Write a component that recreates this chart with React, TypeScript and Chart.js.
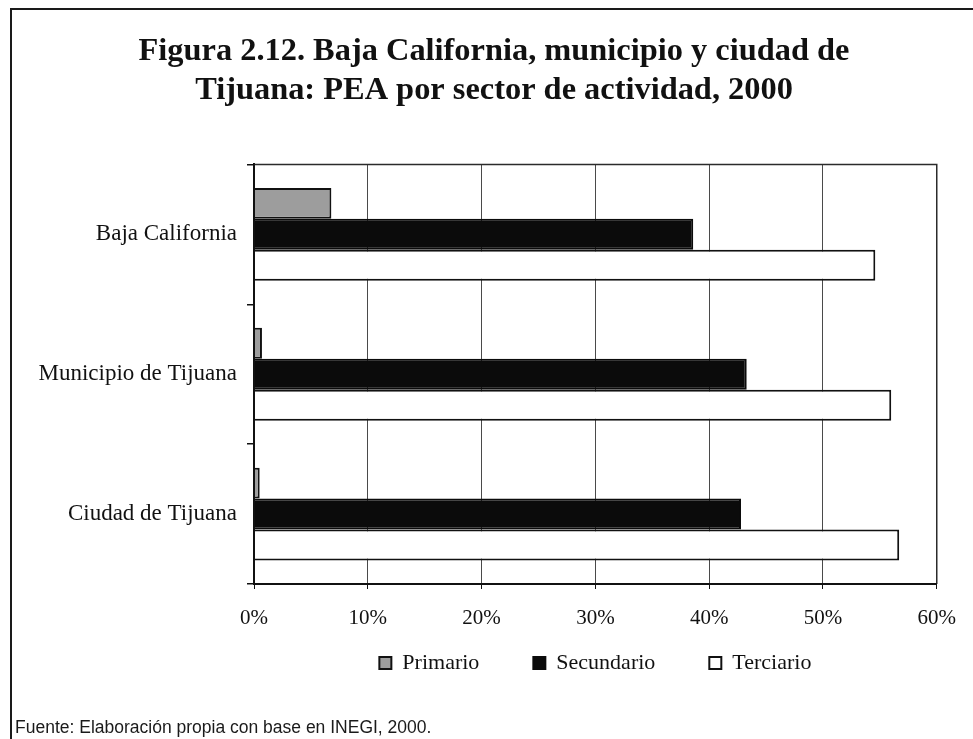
import { useEffect, useRef } from 'react';
import { Chart, registerables } from 'chart.js';

Chart.register(...registerables);

// Población económicamente activa por sector (% del total)
const categories = ['Baja California', 'Municipio de Tijuana', 'Ciudad de Tijuana'];
const primario = [6.8, 0.7, 0.5];
const secundario = [38.6, 43.3, 42.8];
const terciario = [54.6, 56.0, 56.7];
const seriesNames = ['Primario', 'Secundario', 'Terciario'];

const axisMin = 0;
const axisMax = 60;
const axisStep = 10;

const titleLines = [
  'Figura 2.12. Baja California, municipio y ciudad de',
  'Tijuana: PEA por sector de actividad, 2000',
];
const sourceNote = 'Fuente: Elaboración propia con base en INEGI, 2000.';

const SERIF = '"Liberation Serif", "Times New Roman", serif';
const SANS = '"Liberation Sans", Arial, sans-serif';

// Frame around the plotting area, drawn over the bars so the axis lines stay crisp
const plotFrame = {
  id: 'plotFrame',
  afterDatasetsDraw(chart: Chart) {
    const { ctx, chartArea: a } = chart;
    ctx.save();
    ctx.strokeStyle = '#2b2b2b';
    ctx.lineWidth = 1.5;
    ctx.beginPath();
    ctx.moveTo(a.left, a.top);
    ctx.lineTo(a.right, a.top);
    ctx.lineTo(a.right, a.bottom);
    ctx.stroke();
    ctx.strokeStyle = '#111';
    ctx.lineWidth = 2;
    ctx.beginPath();
    ctx.moveTo(a.left, a.top);
    ctx.lineTo(a.left, a.bottom);
    ctx.lineTo(a.right, a.bottom);
    ctx.stroke();
    ctx.restore();
  },
};

// The x axis reserves only a short box so the legend sits close to it;
// widen the label clip region afterwards so the percentage labels still show.
const xLabelRoom = {
  id: 'xLabelRoom',
  afterLayout(chart: any) {
    const s = chart.scales.x;
    if (s) s.bottom = s.top + 60;
  },
};

export default function App() {
  const canvasRef = useRef<HTMLCanvasElement | null>(null);

  useEffect(() => {
    const canvas = canvasRef.current;
    if (!canvas) return;

    const chart = new Chart(canvas, {
      type: 'bar',
      data: {
        labels: categories,
        datasets: [
          {
            label: seriesNames[0],
            data: primario,
            backgroundColor: '#9d9d9d',
            borderColor: '#111',
            borderWidth: 2,
            yAxisID: 'y',
            xAxisID: 'x',
          },
          {
            label: seriesNames[1],
            data: secundario,
            backgroundColor: '#0b0b0b',
            borderColor: '#0b0b0b',
            borderWidth: 2,
            yAxisID: 'y',
            xAxisID: 'x',
          },
          {
            label: seriesNames[2],
            data: terciario,
            backgroundColor: '#ffffff',
            borderColor: '#111',
            borderWidth: 2,
            yAxisID: 'y',
            xAxisID: 'x',
          },
        ],
      },
      options: {
        indexAxis: 'y',
        responsive: false,
        animation: false,
        events: [],
        font: { family: SERIF },
        datasets: {
          bar: { categoryPercentage: 0.664, barPercentage: 1 },
        },
        layout: { padding: { left: 15, right: 0, top: 0, bottom: 0 } },
        scales: {
          x: {
            type: 'linear',
            position: 'bottom',
            min: axisMin,
            max: axisMax,
            ticks: {
              stepSize: axisStep,
              callback: (v: number | string) => `${v}%`,
              color: '#111',
              font: { family: SERIF, size: 21 },
              padding: 17,
            },
            grid: {
              color: '#4a4a4a',
              lineWidth: 1,
              drawTicks: true,
              tickLength: 5,
              tickColor: '#111',
            },
            border: { display: true, color: '#111', width: 2 },
            afterFit: (s: any) => {
              s.height = 14;
            },
          },
          y: {
            type: 'category',
            position: 'left',
            ticks: {
              color: '#111',
              font: { family: SERIF, size: 23 },
              padding: 10,
            },
            grid: {
              drawOnChartArea: false,
              drawTicks: true,
              tickLength: 7,
              color: '#111',
              lineWidth: 1.5,
            },
            border: { display: true, color: '#111', width: 2 },
            afterFit: (s: any) => {
              s.width = 239;
            },
          },
          yRight: {
            type: 'linear',
            position: 'right',
            display: true,
            grid: { display: false },
            ticks: { display: false },
            border: { display: false },
            afterFit: (s: any) => {
              s.width = 35;
            },
          },
        },
        plugins: {
          tooltip: { enabled: false },
          title: {
            display: true,
            text: titleLines,
            color: '#111',
            font: { family: SERIF, size: 32.4, weight: 'bold', lineHeight: 1.21 },
            padding: { top: 32, bottom: 54 },
          },
          subtitle: {
            display: true,
            text: sourceNote,
            position: 'bottom',
            align: 'start',
            color: '#1a1a1a',
            font: { family: SANS, size: 17.5, weight: 'normal', lineHeight: 1.2 },
            padding: { top: 34, bottom: 0 },
          },
          legend: {
            display: true,
            position: 'bottom',
            align: 'center',
            fullSize: false,
            labels: {
              boxWidth: 12,
              boxHeight: 12,
              padding: 54,
              color: '#111',
              font: { family: SERIF, size: 22 },
            },
          },
        },
      },
      plugins: [plotFrame, xLabelRoom],
    } as any);

    return () => {
      chart.destroy();
    };
  }, []);

  return (
    <div
      style={{
        position: 'fixed',
        left: 0,
        top: 0,
        width: 973,
        height: 739,
        overflow: 'hidden',
        background: '#ffffff',
      }}
    >
      <div
        style={{
          position: 'absolute',
          left: 10,
          top: 8,
          width: 1200,
          height: 1000,
          border: '2.5px solid #1a1a1a',
          boxSizing: 'border-box',
        }}
      />
      <canvas
        ref={canvasRef}
        width={973}
        height={739}
        style={{ position: 'absolute', left: 0, top: 0, width: 973, height: 739 }}
      />
    </div>
  );
}
